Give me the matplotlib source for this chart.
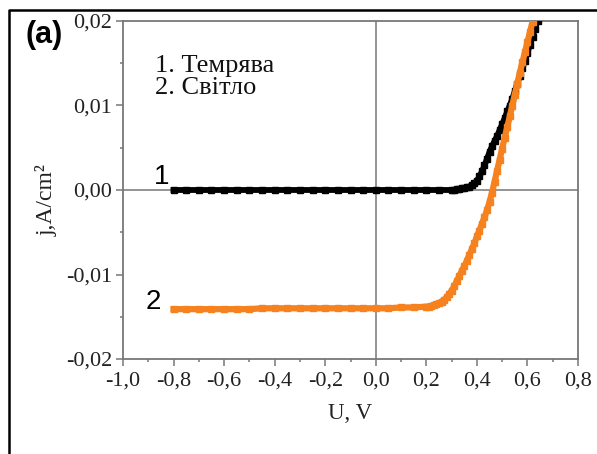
import matplotlib
matplotlib.use("Agg")
import matplotlib.pyplot as plt
from matplotlib.lines import Line2D
from matplotlib.ticker import MultipleLocator, FuncFormatter

# curve 1 - dark (Темрява)
u_dark = [-0.80, -0.75, -0.70, -0.65, -0.60, -0.55, -0.50, -0.45, -0.40, -0.35,
          -0.30, -0.25, -0.20, -0.15, -0.10, -0.05, 0.00, 0.05, 0.10, 0.15,
          0.20, 0.25, 0.30, 0.31, 0.32, 0.33, 0.34, 0.35, 0.36, 0.37,
          0.38, 0.39, 0.40, 0.41, 0.42, 0.43, 0.44, 0.45, 0.46, 0.47,
          0.48, 0.49, 0.50, 0.51, 0.52, 0.53, 0.54, 0.55, 0.56, 0.57,
          0.58, 0.59, 0.60, 0.61, 0.62, 0.63, 0.64, 0.65]
j_dark = [0.0, 0.0, 0.0, 0.0, 0.0, 0.0, 0.0, 0.0, 0.0, 0.0,
          0.0, 0.0, 0.0, 0.0, 0.0, 0.0, 0.0, 0.0, 0.0, 0.0,
          0.0, 0.0, 0.0, 0.0, 0.0001, 0.0001, 0.0002, 0.0002, 0.0003, 0.0004,
          0.0006, 0.0008, 0.0011, 0.0016, 0.0022, 0.0029, 0.0037, 0.0045, 0.0052, 0.0058,
          0.0064, 0.0071, 0.0078, 0.0085, 0.0093, 0.0100, 0.0108, 0.0117, 0.0126, 0.0135,
          0.0144, 0.0153, 0.0162, 0.0172, 0.0181, 0.0191, 0.0200, 0.0210]

# curve 2 - light (Світло)
u_light = [-0.80, -0.75, -0.70, -0.65, -0.60, -0.55, -0.50, -0.45, -0.40, -0.35,
           -0.30, -0.25, -0.20, -0.15, -0.10, -0.05, 0.00, 0.05, 0.10, 0.15,
           0.20, 0.21, 0.22, 0.23, 0.24, 0.25, 0.26, 0.27, 0.28, 0.29,
           0.30, 0.31, 0.32, 0.33, 0.34, 0.35, 0.36, 0.37, 0.38, 0.39,
           0.40, 0.41, 0.42, 0.43, 0.44, 0.45, 0.46, 0.47, 0.48, 0.49,
           0.50, 0.51, 0.52, 0.53, 0.54, 0.55, 0.56, 0.57, 0.58, 0.59,
           0.60, 0.61, 0.62, 0.63]
j_light = [-0.0141, -0.0141, -0.0141, -0.0141, -0.0141, -0.0141, -0.0141, -0.0140, -0.0140, -0.0140,
           -0.0140, -0.0140, -0.0140, -0.0140, -0.0140, -0.0140, -0.0140, -0.0140, -0.0139, -0.0139,
           -0.0138, -0.0138, -0.0137, -0.0136, -0.0135, -0.0134, -0.0132, -0.0130, -0.0127, -0.0123,
           -0.0119, -0.0114, -0.0108, -0.0102, -0.0096, -0.0090, -0.0084, -0.0077, -0.0070, -0.0063,
           -0.0055, -0.0048, -0.0040, -0.0032, -0.0024, -0.0014, -0.0003, 0.0010, 0.0023, 0.0036,
           0.0049, 0.0062, 0.0074, 0.0087, 0.0100, 0.0113, 0.0126, 0.0139, 0.0151, 0.0163,
           0.0175, 0.0187, 0.0199, 0.0211]

legend_lines = "1. Темрява\n2. Світло"

serif = "Liberation Serif"
sans = "Liberation Sans"
gray = "#777777"
orange = "#f5821f"
txt = "#222222"

fig = plt.figure(figsize=(5.97, 4.54), dpi=100)
ax = fig.add_axes([123 / 597, 1 - 359 / 454, 455 / 597, 338 / 454])

ax.axhline(0, color=gray, lw=1.1, zorder=1)
ax.axvline(0, color=gray, lw=1.1, zorder=1)

ax.plot(u_dark, j_dark, color="black", lw=4.2, marker="s", ms=4.6, zorder=3)
ax.plot(u_light, j_light, color=orange, lw=4.5, marker="s", ms=5, zorder=4)

ax.set_xlim(-1.0, 0.8)
ax.set_ylim(-0.02, 0.02)
ax.xaxis.set_major_locator(MultipleLocator(0.2))
ax.xaxis.set_minor_locator(MultipleLocator(0.1))
ax.yaxis.set_major_locator(MultipleLocator(0.01))
ax.yaxis.set_minor_locator(MultipleLocator(0.005))
ax.xaxis.set_major_formatter(FuncFormatter(lambda v, p: f"{v:.1f}".replace(".", ",").replace("-0,0", "0,0")))
ax.yaxis.set_major_formatter(FuncFormatter(lambda v, p: f"{v:.2f}".replace(".", ",").replace("-0,00", "0,00")))

for s in ax.spines.values():
    s.set_color(gray)
    s.set_linewidth(1.3)
ax.tick_params(which="both", direction="out", color=gray, width=1.1)
ax.tick_params(which="major", length=5)
ax.tick_params(which="minor", length=2.5)
ax.tick_params(axis="x", pad=4)
ax.tick_params(axis="y", pad=3)
for lab in ax.get_xticklabels() + ax.get_yticklabels():
    lab.set_fontfamily(serif)
    lab.set_fontsize(16)
    lab.set_color(txt)

ax.set_xlabel("U, V", fontfamily=serif, fontsize=16.5, color=txt)
ax.xaxis.set_label_coords(0.5, -0.13)
ax.set_ylabel("j,A/cm²", fontfamily=serif, fontsize=17, color=txt)
ax.yaxis.set_label_coords(-0.143, 0.47)

ax.text(0.070, 0.900, legend_lines, transform=ax.transAxes, fontfamily=serif,
        fontsize=19, va="top", ha="left", linespacing=1.0, color="#111111")

ax.text(-0.848, 0.0015, "1", fontfamily=sans, fontsize=20, ha="center", va="center")
ax.text(-0.879, -0.0133, "2", fontfamily=sans, fontsize=20, ha="center", va="center")

fig.text(44 / 597, 1 - 35 / 454, "(a)", fontfamily=sans, fontweight="bold",
         fontsize=22, ha="center", va="center")

# frame of the cropped panel (left and top only)
fig.add_artist(Line2D([8.5 / 597, 8.5 / 597, 1.0], [0.0, 1 - 10 / 454, 1 - 10 / 454],
                      color="black", lw=1.8, transform=fig.transFigure))

fig.savefig("out.png", dpi=100)
